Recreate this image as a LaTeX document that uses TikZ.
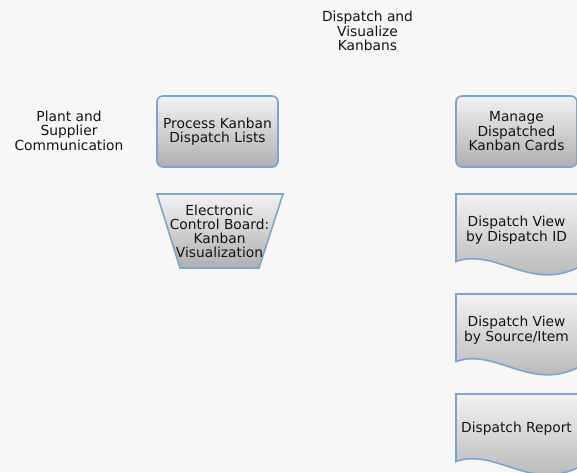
\documentclass[tikz,border=0pt]{standalone}
\usepackage{fontspec}
\setmainfont{DejaVu Sans}
\definecolor{bg}{HTML}{F7F7F7}
\definecolor{edge}{HTML}{7AA4D4}
\definecolor{topc}{HTML}{F2F2F2}
\definecolor{botc}{HTML}{AFAFAF}
\definecolor{txt}{HTML}{141414}
\tikzset{
  lbl/.style={align=center, font=\fontsize{13.8}{14.5}\selectfont, text=txt, inner sep=0pt},
  shapefill/.style={top color=topc, bottom color=botc},
  shapeedge/.style={draw=edge, line width=1.6pt},
  roundbox/.style={shapefill, shapeedge, rounded corners=6pt, minimum width=121pt,
    minimum height=71pt, inner sep=0pt, lbl}
}
\newcommand\docshape[1]{%
  \begin{scope}[shift={(456,#1)}]
    \path[shapefill, shapeedge] (0,0) -- (122,0) -- (122,73.5)
      .. controls (74,97.5) and (39,53.5) .. (0,67.5) -- cycle;
  \end{scope}}
\begin{document}
\begin{tikzpicture}[x=1pt, y=-1pt]
  \useasboundingbox (0,0) rectangle (577,472);
  \fill[bg] (0,0) rectangle (577,472);

  \node[lbl] (title) at (367.5,31) {Dispatch and\\Visualize\\Kanbans};
  \node[lbl] (plant) at (69,130.5) {Plant and\\Supplier\\Communication};

  \node[roundbox] (process) at (217.5,131.5) {Process Kanban\\Dispatch Lists};
  \node[roundbox] (manage) at (516.5,131.5) {Manage\\Dispatched\\Kanban Cards};

  \path[shapefill, shapeedge] (157,194) -- (283,194) -- (259,268) -- (180,268) -- cycle;
  \node[lbl, font=\fontsize{13.8}{14}\selectfont] (ecb) at (219.5,231)
    {Electronic\\Control Board:\\Kanban\\Visualization};

  \docshape{194}
  \docshape{294}
  \docshape{394}
  \node[lbl] (viewid) at (516.5,230) {Dispatch View\\by Dispatch ID};
  \node[lbl] (viewsrc) at (516.5,330) {Dispatch View\\by Source/Item};
  \node[lbl] (report) at (516.5,429) {Dispatch Report};
\end{tikzpicture}
\end{document}
